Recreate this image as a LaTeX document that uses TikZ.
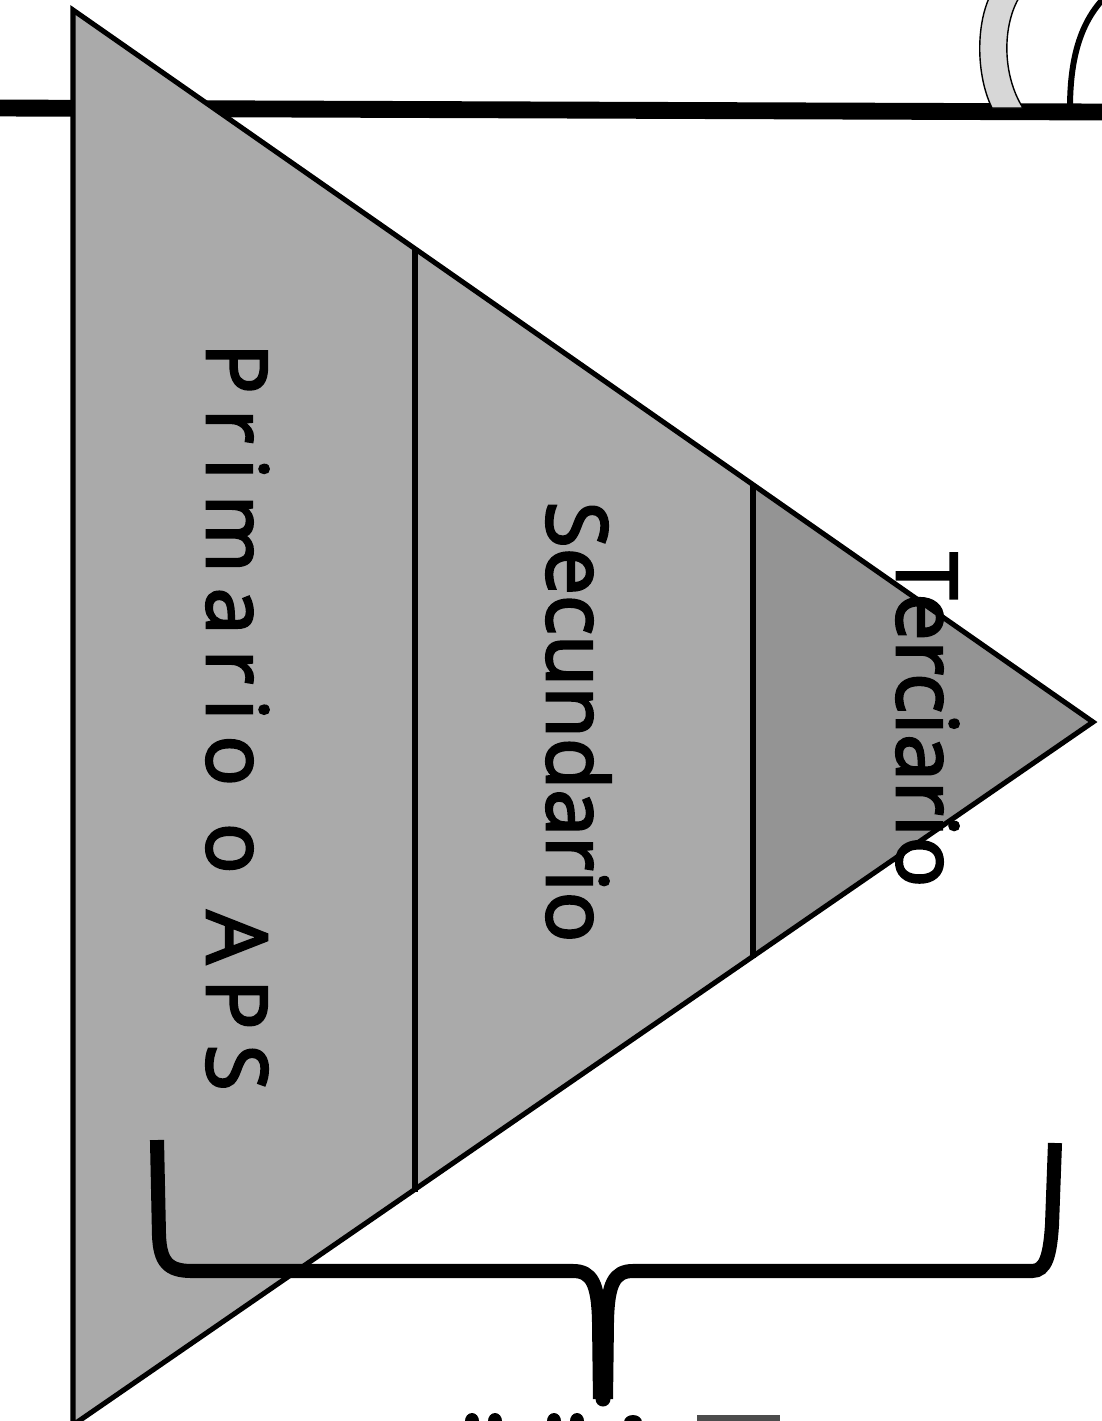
\documentclass[tikz,border=0pt]{standalone}
\usepackage{fontspec}
\setmainfont{Open Sans}
\usetikzlibrary{positioning}
\definecolor{tiergray}{RGB}{170,170,170}
\definecolor{topgray}{RGB}{148,148,148}
\definecolor{stipple}{RGB}{215,215,215}
\newfontfamily\tierfont{Open Sans}[FakeBold=3]

\begin{document}
\begin{tikzpicture}[x=0.02cm, y=-0.02cm,
    tierline/.style={draw=black, line width=2.9pt, line join=miter},
    divider/.style={draw=black, line width=3.2pt},
    tiertext/.style={font=\tierfont\fontsize{47.8}{52}\selectfont,
                     rotate=-90, anchor=base, inner sep=0pt, text=black},
    bracestroke/.style={draw=black, line width=8pt, line cap=butt}
  ]
    \useasboundingbox (0,0) rectangle (1102,1421);
    \clip (0,0) rectangle (1102,1421);

    % corners of the pyramid and the two dividers
    \coordinate (topv) at (73,10);
    \coordinate (botv) at (73,1425);
    \coordinate (apex) at (1093,722);
    \coordinate (d1t) at (415,248);
    \coordinate (d1b) at (415,1192);
    \coordinate (d2t) at (753,484);
    \coordinate (d2b) at (753,958);

    % horizontal rule behind the pyramid
    \draw[line width=9.6pt] (0,108) -- (1102,112);

    % top right marks
    \filldraw[fill=stipple, draw=black, line width=0.8pt]
      (990,-4) .. controls (976,25) and (976,75) .. (992,108)
      -- (1023,108) .. controls (1002,75) and (1002,25) .. (1020,-4) -- cycle;
    \draw[line width=3.4pt] (1070,108) .. controls (1070,55) and (1082,20) .. (1106,-4);

    % tiers
    \fill[tiergray] (topv) -- (d1t) -- (d1b) -- (botv) -- cycle;
    \fill[tiergray] (d1t) -- (d2t) -- (d2b) -- (d1b) -- cycle;
    \fill[topgray] (d2t) -- (apex) -- (d2b) -- cycle;
    \draw[tierline] (topv) -- (apex) -- (botv) -- cycle;
    \draw[divider] (d1t) -- (d1b);
    \draw[divider] (d2t) -- (d2b);

    % tier names
    \node[tiertext] (primario) at (207,717)
      {\addfontfeatures{LetterSpace=18}Primario o APS};
    \node[tiertext] (secundario) at (547,722) {Secundario};
    \node[tiertext] (terciario) at (897,720) {Terciario};

    % brace under the pyramid
    \draw[bracestroke] (157,1140) -- (159,1235)
      .. controls (160,1262) and (168,1271) .. (192,1271) -- (573,1271)
      .. controls (592,1271) and (598,1284) .. (599,1320) -- (600,1399);
    \draw[bracestroke] (606,1399) -- (607,1320)
      .. controls (608,1284) and (614,1271) .. (633,1271) -- (1032,1271)
      .. controls (1046,1271) and (1050,1255) .. (1052,1225) -- (1055,1143);
    \fill (603,1399) circle (7.5);

    % cut off text at the lower edge
    \fill (472,1421) ellipse (7 and 8);
    \fill (495,1421) ellipse (7 and 8);
    \fill (554,1421) ellipse (7 and 8);
    \fill (577,1421) ellipse (7 and 8);
    \fill (633,1422) ellipse (9 and 7);
    \fill[black!70] (697,1415) rectangle (780,1425);
  \end{tikzpicture}
\end{document}
